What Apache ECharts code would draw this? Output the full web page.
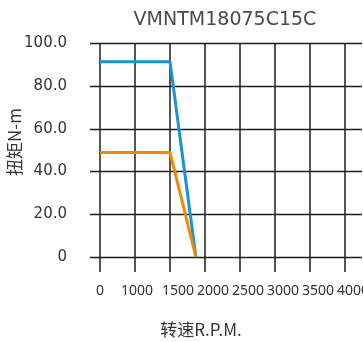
<!DOCTYPE html>
<html>
<head>
<meta charset="utf-8">
<script src="https://cdn.jsdelivr.net/npm/echarts@6/dist/echarts.min.js"></script>
<style>
  html, body { margin: 0; padding: 0; background: #fff; }
  #main { width: 363px; height: 342px; }
</style>
</head>
<body>
<div id="main"></div>
<script>
  // x 轴刻度（等距排列）
  var rpmTicks = [0, 1000, 1500, 2000, 2500, 3000, 3500, 4000];
  var yTicks = [0, 20, 40, 60, 80, 100];
  // 曲线数据 转速 / 扭矩
  var peakRpm = [0, 1500, 1870];
  var peakTorque = [91.5, 91.5, 0];
  var ratedRpm = [0, 1500, 1870];
  var ratedTorque = [49, 49, 0];

  // 转速 -> 刻度位置（刻度是等距的，按段线性换算）
  function rpmPos(r) {
    for (var i = 1; i < rpmTicks.length; i++) {
      if (r <= rpmTicks[i]) {
        return i - 1 + (r - rpmTicks[i - 1]) / (rpmTicks[i] - rpmTicks[i - 1]);
      }
    }
    return rpmTicks.length - 1;
  }
  function pairs(xs, ys) {
    return xs.map(function (x, i) { return [rpmPos(x), ys[i]]; });
  }

  var gridColor = '#1e1e1e';
  var xLabelFont = { fontFamily: 'Noto Sans', fontSize: 14, color: '#333' };
  var chart = echarts.init(document.getElementById('main'));
  var option = {
    animation: false,
    title: {
      text: 'VMNTM18075C15C',
      left: 220,
      top: 6,
      textAlign: 'center',
      textStyle: { fontFamily: 'DejaVu Sans', fontSize: 19, fontWeight: 'normal', color: '#4a4a4a' }
    },
    grid: [
      { left: 100, right: 18, top: 43.5, bottom: 85, outerBoundsMode: 'none' },
      { left: 90, right: 1, top: 43.5, bottom: 85, outerBoundsMode: 'none' }
    ],
    xAxis: [{
      type: 'value',
      gridIndex: 0,
      min: 0,
      max: rpmTicks.length - 1,
      interval: 1,
      axisLine: { show: false },
      axisTick: { show: true, length: 15, lineStyle: { color: gridColor, width: 1.5 } },
      splitLine: { show: true, lineStyle: { color: gridColor, width: 1.5 } },
      axisLabel: {
        margin: 27,
        fontFamily: 'Noto Sans',
        fontSize: 14,
        color: '#333',
        hideOverlap: false,
        formatter: function (v) {
          var i = Math.round(v);
          var s = i === 0 ? 'a' : (i === 1 ? 'b' : 'c');
          return '{' + s + '|' + rpmTicks[i] + '}';
        },
        rich: {
          a: xLabelFont,
          b: Object.assign({ padding: [0, 0, 0, 4] }, xLabelFont),
          c: Object.assign({ padding: [0, 0, 0, 16] }, xLabelFont)
        }
      }
    }, {
      type: 'value',
      gridIndex: 1,
      show: false,
      min: 0,
      max: 1
    }],
    yAxis: [{
      type: 'value',
      gridIndex: 0,
      show: false,
      min: 0,
      max: 100
    }, {
      type: 'value',
      gridIndex: 1,
      min: yTicks[0],
      max: yTicks[yTicks.length - 1],
      interval: 20,
      axisLine: { show: false },
      axisTick: { show: false },
      splitLine: { show: true, lineStyle: { color: gridColor, width: 1.3 } },
      axisLabel: {
        margin: 23,
        fontFamily: 'DejaVu Sans',
        fontSize: 15,
        color: '#333',
        formatter: function (v) { return v === 0 ? '0' : v.toFixed(1); }
      }
    }],
    graphic: [{
      type: 'text',
      x: 15,
      y: 142,
      rotation: Math.PI / 2,
      style: {
        text: '扭矩N-m',
        font: '17px "Noto Sans CJK SC"',
        fill: '#333',
        align: 'center',
        verticalAlign: 'middle'
      }
    }, {
      type: 'text',
      x: 201,
      y: 330,
      style: {
        text: '转速R.P.M.',
        font: '17px "Noto Sans CJK SC"',
        fill: '#333',
        align: 'center',
        verticalAlign: 'middle'
      }
    }],
    series: [{
      name: '峰值扭矩',
      type: 'line',
      xAxisIndex: 0,
      yAxisIndex: 0,
      data: pairs(peakRpm, peakTorque),
      symbol: 'none',
      lineStyle: { color: '#1792d8', width: 3 },
      z: 3
    }, {
      name: '额定扭矩',
      type: 'line',
      xAxisIndex: 0,
      yAxisIndex: 0,
      data: pairs(ratedRpm, ratedTorque),
      symbol: 'none',
      lineStyle: { color: '#f28a00', width: 3 },
      z: 4
    }]
  };
  chart.setOption(option);
</script>
</body>
</html>
